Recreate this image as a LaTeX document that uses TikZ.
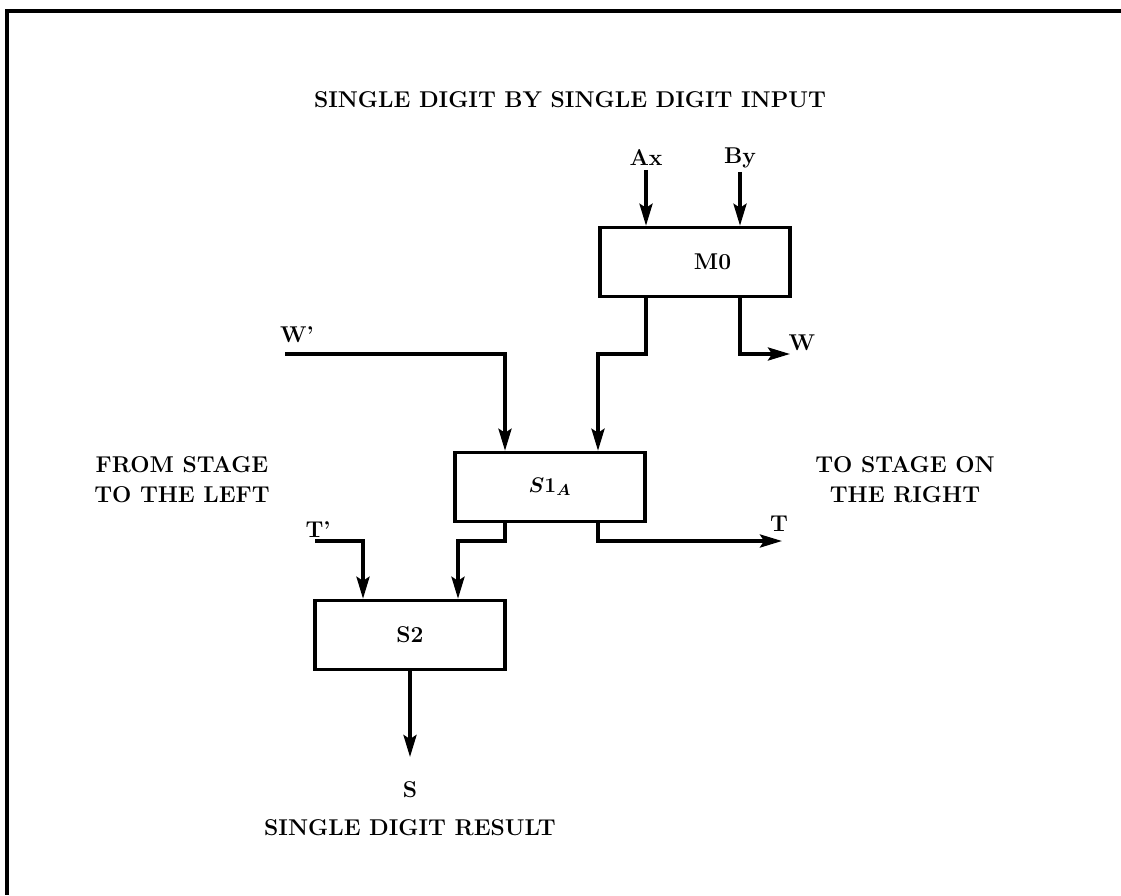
\documentclass[tikz,border=0pt]{standalone}
\usepackage{amsmath}
\usetikzlibrary{arrows.meta}

\begin{document}
\begin{tikzpicture}[
    x=0.02cm, y=-0.02cm,
    every node/.style={font=\fontsize{13}{17}\selectfont\bfseries, inner sep=2pt},
    block/.style={rectangle, draw, line width=2pt, minimum width=3.8cm, minimum height=1.38cm},
    wire/.style={line width=2pt},
    arrow/.style={wire, -{Stealth[length=0.44cm, width=0.26cm, inset=0.08cm]}},
    frame/.style={line width=2pt}
]
\useasboundingbox (0,0) rectangle (1121,895);

% frame
\draw[frame] (5,11) -- (1121,11);
\draw[frame] (7,11) -- (7,895);

% texts
\node (title) at (570,100) {SINGLE DIGIT BY SINGLE DIGIT INPUT};
\node[align=center] (left) at (182,480) {FROM STAGE\\TO THE LEFT};
\node[align=center] (right) at (905,480) {TO STAGE ON\\THE RIGHT};
\node (result) at (410,828) {SINGLE DIGIT RESULT};

% blocks
\node[block] (m0) at (695,262) {\hspace{0.7cm}M0};
\node[block] (s1a) at (550,487) {$\boldsymbol{S1_A}$};
\node[block] (s2) at (410,635) {S2};

% signal labels
\node (ax) at (646,158) {Ax};
\node (by) at (740,158) {By};
\node (w) at (802,343) {W};
\node (wp) at (297,335) {W'};
\node (t) at (779,524) {T};
\node (tp) at (318,530) {T'};
\node (s) at (410,790) {S};

% junction points
\coordinate (j1) at (598,354);
\coordinate (wout) at (790,354);
\coordinate (win) at (285,354);
\coordinate (j2) at (458,541);
\coordinate (tout) at (782,541);
\coordinate (tin) at (315,541);
\coordinate (sout) at (410,757);

% inputs of M0
\draw[arrow] (ax.south) -- (ax.south |- m0.north);
\draw[arrow] (by.south) -- (by.south |- m0.north);

% M0 outputs
\draw[arrow] (m0.south -| ax) |- (j1) -- (j1 |- s1a.north);
\draw[arrow] (m0.south -| by) |- (wout);

% W' into S1A
\draw[arrow] (win) -| (505,0 |- s1a.north);

% S1A outputs
\draw[arrow] (505,0 |- s1a.south) |- (j2) -- (j2 |- s2.north);
\draw[arrow] (j1 |- s1a.south) |- (tout);

% T' into S2
\draw[arrow] (tin) -| (363,0 |- s2.north);

% S2 output
\draw[arrow] (s2.south) -- (sout);
\end{tikzpicture}
\end{document}
